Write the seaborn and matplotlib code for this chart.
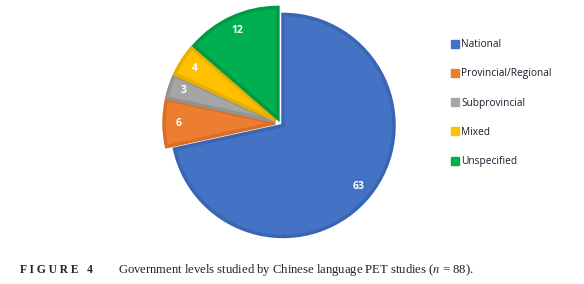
import matplotlib
matplotlib.use("Agg")
import matplotlib.pyplot as plt
import seaborn as sns
from matplotlib.lines import Line2D

categories = ["National", "Provincial/Regional", "Subprovincial", "Mixed", "Unspecified"]
values = [63, 6, 3, 4, 12]
colors = ["#4472C4", "#ED7D31", "#A5A5A5", "#FFC000", "#00B050"]
edge_colors = ["#3A65B3", "#D96E25", "#939393", "#E8AE00", "#009A44"]
explode = [0.035, 0.045, 0.045, 0.045, 0.045]
caption_label = "F I G U R E   4"
caption_text = "Government levels studied by Chinese language PET studies ($\\it{n}$ = 88)."

sns.set_theme(style="white")
plt.rcParams["mathtext.fontset"] = "stix"

fig = plt.figure(figsize=(5.84, 2.84), dpi=100)
W, H = 584, 284
cx, cy, r = 280, 123, 111
left, right, top, bottom = 150, 420, 0, 252
ax = fig.add_axes([left / W, (H - bottom) / H, (right - left) / W, (bottom - top) / H])
ax.set_axis_off()

total = sum(values)
wedges, texts, autotexts = ax.pie(
    values, colors=colors, explode=explode, startangle=90, counterclock=False,
    autopct=lambda p: f"{round(p * total / 100):d}", pctdistance=0.87,
    wedgeprops=dict(linewidth=2.5), textprops=dict(color="white", fontsize=7.5,
                                                     fontweight="bold", family="Open Sans"),
    frame=False)
for w, ec in zip(wedges, edge_colors):
    w.set_edgecolor(ec)
    w.set_joinstyle("miter")
ax.set_xlim((left - cx) / r, (right - cx) / r)
ax.set_ylim(-(bottom - cy) / r, (cy - top) / r)
ax.set_aspect("auto")

handles = [Line2D([0], [0], marker="s", linestyle="none", markersize=5.5,
                  markerfacecolor=c, markeredgecolor=c) for c in colors]
leg = fig.legend(handles, categories, loc="upper left", bbox_to_anchor=(443 / W, 1 - 30 / H),
                 frameon=False, labelspacing=1.8, handlelength=0.6, handletextpad=0.3,
                 prop=dict(family="Open Sans", size=7.3))
for t in leg.get_texts():
    t.set_color("#1a1a2e")

fig.text(20 / W, 1 - 270 / H, caption_label, family="Liberation Serif", fontweight="bold",
         fontsize=8.3, va="center", ha="left", color="#222222")
fig.text(118 / W, 1 - 270 / H, caption_text, family="Liberation Serif",
         fontsize=9.1, va="center", ha="left", color="#222222")

fig.savefig("out.png", dpi=100)
